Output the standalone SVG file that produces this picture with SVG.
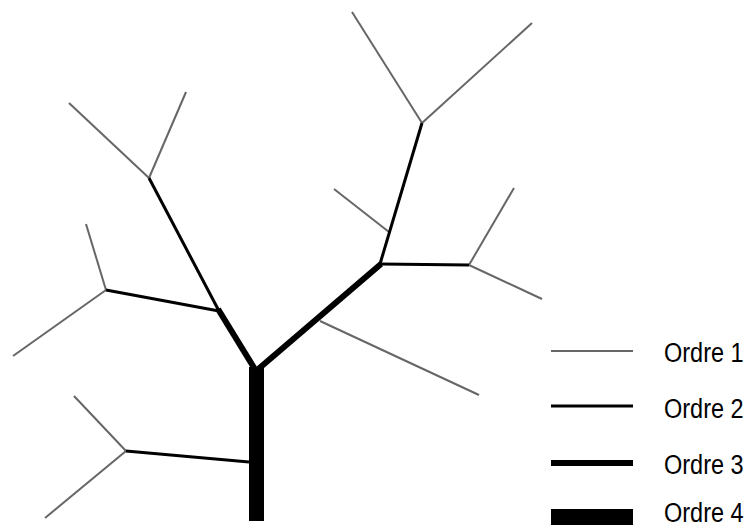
<svg xmlns="http://www.w3.org/2000/svg" width="750" height="528" viewBox="0 0 750 528">
<style>
.o1{stroke:#666;stroke-width:2;fill:none;stroke-linecap:butt}
.o2{stroke:#000;stroke-width:3;fill:none}
.o3{stroke:#000;stroke-width:6;fill:none}
.lbl{font-family:"Liberation Sans",Arial,sans-serif;font-size:28px;fill:#000}
</style>
<rect width="750" height="528" fill="#fff"/>
<g id="connectors">
<line class="o1" x1="69" y1="103" x2="149" y2="178"/>
<line class="o1" x1="186" y1="92" x2="149" y2="178"/>
<line class="o1" x1="86" y1="224" x2="106" y2="290"/>
<line class="o1" x1="13" y1="356" x2="106" y2="290"/>
<line class="o1" x1="74" y1="396" x2="126" y2="451"/>
<line class="o1" x1="45" y1="518" x2="126" y2="451"/>
<line class="o1" x1="352" y1="12" x2="422" y2="123"/>
<line class="o1" x1="532" y1="23" x2="422" y2="123"/>
<line class="o1" x1="334" y1="189" x2="389" y2="232"/>
<line class="o1" x1="514" y1="188" x2="469" y2="265"/>
<line class="o1" x1="542" y1="299" x2="469" y2="265"/>
<line class="o1" x1="320" y1="321" x2="479" y2="395"/>
<line class="o2" x1="149" y1="178" x2="219" y2="311"/>
<line class="o2" x1="106" y1="290" x2="219" y2="311"/>
<line class="o2" x1="126" y1="451" x2="249" y2="462"/>
<line class="o2" x1="422" y1="123" x2="380" y2="264"/>
<line class="o2" x1="380" y1="264" x2="469" y2="265"/>
<line class="o3" x1="218" y1="309" x2="256" y2="371"/>
<line class="o3" x1="381" y1="264" x2="256" y2="371"/>
<rect x="249" y="367" width="15" height="154" fill="#000"/>
</g>
<g id="legend">
<line class="o1" x1="551" y1="351" x2="633" y2="351" stroke-width="2.5"/>
<line class="o2" x1="551" y1="406" x2="633" y2="406"/>
<line class="o3" x1="551" y1="463" x2="633" y2="463" stroke-width="7"/>
<rect x="551" y="509" width="82" height="16" fill="#000"/>
<text class="lbl" transform="translate(664 362) scale(0.84 1)">Ordre 1</text>
<text class="lbl" transform="translate(664 418) scale(0.84 1)">Ordre 2</text>
<text class="lbl" transform="translate(664 474) scale(0.84 1)">Ordre 3</text>
<text class="lbl" transform="translate(664 522) scale(0.84 1)">Ordre 4</text>
</g>
</svg>
